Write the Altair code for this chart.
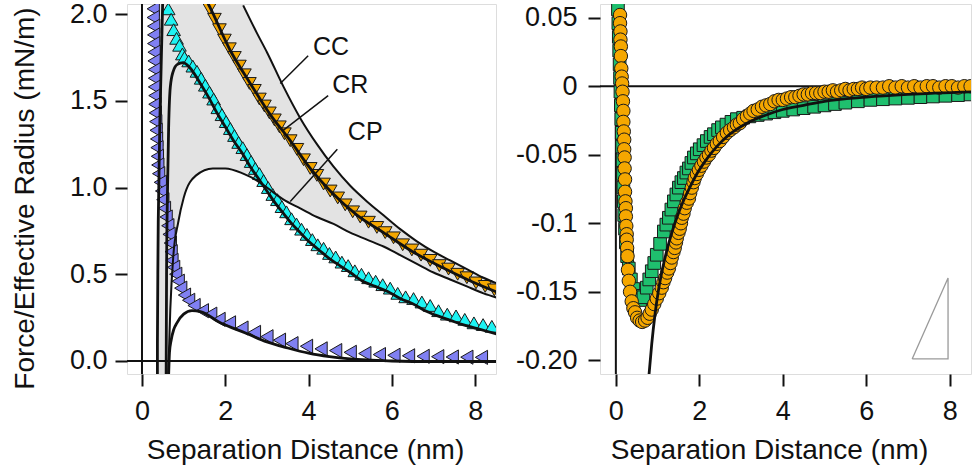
import altair as alt
import pandas as pd

FONT = "Liberation Sans"
INK = "#111111"

# ---------------- Left panel data ----------------
# grey band (upper = CC, lower = CP)
band_x = [0.38, 0.50, 0.60, 0.63, 0.68, 0.75, 0.87, 1.00, 1.30, 1.70, 2.00, 2.43, 2.76, 3.00, 3.40, 3.80, 4.20, 4.60, 5.00, 5.40, 5.80, 6.20, 6.60, 7.00, 7.40, 7.80, 8.20, 8.60]
band_hi = [2.10, 2.10, 2.10, 2.10, 2.10, 2.10, 2.10, 2.10, 2.10, 2.10, 2.10, 2.05, 1.89, 1.78, 1.58, 1.40, 1.25, 1.12, 1.01, 0.92, 0.84, 0.76, 0.69, 0.63, 0.58, 0.53, 0.48, 0.44]
band_lo = [-0.10, -0.10, -0.10, -0.08, 0.30, 0.60, 0.80, 0.94, 1.07, 1.11, 1.11, 1.08, 1.04, 1.00, 0.93, 0.88, 0.83, 0.79, 0.74, 0.70, 0.66, 0.61, 0.56, 0.51, 0.47, 0.43, 0.39, 0.36]

cc_x = [2.43, 2.76, 3.00, 3.40, 3.80, 4.20, 4.60, 5.00, 5.40, 5.80, 6.20, 6.60, 7.00, 7.40, 7.80, 8.20, 8.60]
cc_y = [2.05, 1.89, 1.78, 1.58, 1.40, 1.25, 1.12, 1.01, 0.92, 0.84, 0.76, 0.69, 0.63, 0.58, 0.53, 0.48, 0.44]

cr_x = [1.50, 1.63, 2.12, 2.60, 3.08, 3.56, 4.04, 4.52, 5.17, 5.80, 6.50, 7.20, 7.90, 8.60]
cr_y = [2.10, 2.04, 1.79, 1.60, 1.42, 1.27, 1.11, 0.98, 0.84, 0.74, 0.63, 0.54, 0.46, 0.39]

cp_x = [0.63, 0.68, 0.75, 0.87, 1.00, 1.30, 1.70, 2.00, 2.43, 2.76, 3.00, 3.40, 3.80, 4.20, 4.60, 5.00, 5.40, 5.80, 6.20, 6.60, 7.00, 7.40, 7.80, 8.20, 8.60]
cp_y = [-0.08, 0.30, 0.60, 0.80, 0.94, 1.07, 1.11, 1.11, 1.08, 1.04, 1.00, 0.93, 0.88, 0.83, 0.79, 0.74, 0.70, 0.66, 0.61, 0.56, 0.51, 0.47, 0.43, 0.39, 0.36]

cyfit_x = [0.58, 0.59, 0.61, 0.64, 0.68, 0.75, 0.85, 0.99, 1.15, 1.40, 1.60, 1.80, 2.00, 2.20, 2.40, 2.60, 2.80, 3.00, 3.20, 3.40, 3.60, 3.80, 4.00, 4.25, 4.50, 4.75, 5.00, 5.30, 5.60, 5.90, 6.20, 6.50, 6.80, 7.10, 7.40, 7.70, 8.00, 8.30, 8.60]
cyfit_y = [-0.08, 0.50, 0.95, 1.35, 1.58, 1.67, 1.71, 1.72, 1.69, 1.60, 1.52, 1.43, 1.35, 1.27, 1.20, 1.12, 1.05, 0.98, 0.91, 0.85, 0.79, 0.74, 0.69, 0.64, 0.59, 0.55, 0.51, 0.46, 0.43, 0.40, 0.36, 0.33, 0.29, 0.26, 0.235, 0.21, 0.19, 0.17, 0.15]

pufit_x = [0.64, 0.66, 0.70, 0.76, 0.84, 1.00, 1.20, 1.40, 1.88, 2.50, 3.00, 3.50, 4.00, 4.50, 5.00, 5.50, 6.00, 7.00, 8.60]
pufit_y = [-0.08, 0.05, 0.12, 0.18, 0.22, 0.27, 0.29, 0.285, 0.22, 0.16, 0.11, 0.075, 0.045, 0.025, 0.012, 0.005, 0.0, -0.003, -0.003]

wall_x = [0.50, 0.46, 0.43, 0.41, 0.39, 0.38, 0.37, 0.37]
wall_y = [2.10, 1.70, 1.40, 1.10, 0.80, 0.50, 0.10, -0.10]

pu_x = [0.27, 0.27, 0.28, 0.28, 0.28, 0.29, 0.29, 0.30, 0.30, 0.30, 0.31, 0.31, 0.32, 0.33, 0.34, 0.35, 0.36, 0.37, 0.38, 0.40, 0.44, 0.47, 0.50, 0.54, 0.58, 0.62, 0.65, 0.68, 0.70, 0.72, 0.76, 0.81, 0.87, 0.93, 1.02, 1.12,
        1.25, 1.45, 1.65, 1.85, 2.10, 2.40, 2.70, 3.00, 3.30, 3.60, 3.95, 4.30, 4.65, 5.00, 5.35, 5.70, 6.05, 6.40, 6.75, 7.10, 7.45, 7.80, 8.15]
pu_y = [2.03, 1.98, 1.93, 1.88, 1.83, 1.78, 1.73, 1.68, 1.63, 1.58, 1.53, 1.48, 1.43, 1.38, 1.33, 1.28, 1.23, 1.18, 1.13, 1.08, 1.03, 0.98, 0.93, 0.88, 0.83, 0.78, 0.73, 0.68, 0.63, 0.58, 0.54, 0.50, 0.46, 0.42, 0.38, 0.35,
        0.32, 0.29, 0.27, 0.24, 0.22, 0.19, 0.165, 0.14, 0.12, 0.10, 0.085, 0.07, 0.06, 0.05, 0.043, 0.037, 0.033, 0.03, 0.027, 0.025, 0.023, 0.022, 0.021]

cy_x = [0.63, 0.70, 0.76, 0.83, 0.90, 0.97, 1.02, 1.12, 1.22, 1.32, 1.42, 1.52, 1.62, 1.72, 1.82, 1.92, 2.02, 2.12, 2.22, 2.32, 2.42, 2.52, 2.62, 2.72, 2.82, 2.92, 3.03, 3.14, 3.25, 3.36, 3.47, 3.59, 3.71, 3.83, 3.96, 4.09, 4.22, 4.36, 4.50, 4.65, 4.80, 4.95, 5.11, 5.27, 5.44, 5.61, 5.78, 5.96, 6.14, 6.33, 6.52, 6.72, 6.92, 7.12, 7.33, 7.54, 7.75, 7.97, 8.19, 8.40]
cy_y = [2.03, 1.97, 1.91, 1.86, 1.82, 1.77, 1.75, 1.73, 1.70, 1.67, 1.63, 1.59, 1.55, 1.51, 1.46, 1.42, 1.38, 1.34, 1.30, 1.26, 1.23, 1.19, 1.15, 1.11, 1.08, 1.04, 1.00, 0.96, 0.93, 0.89, 0.86, 0.82, 0.79, 0.76, 0.73, 0.70, 0.67, 0.65, 0.62, 0.60, 0.57, 0.55, 0.52, 0.50, 0.48, 0.46, 0.44, 0.42, 0.39, 0.37, 0.36, 0.34, 0.32, 0.29, 0.27, 0.26, 0.24, 0.22, 0.21, 0.20]

or_x = [1.62, 1.74, 1.86, 1.98, 2.10, 2.22, 2.34, 2.46, 2.58, 2.70, 2.82, 2.94, 3.06, 3.18, 3.30, 3.42, 3.56, 3.72, 3.88, 4.04, 4.20, 4.36, 4.52, 4.70, 4.88, 5.06, 5.24, 5.44, 5.64, 5.84, 6.04, 6.26, 6.48, 6.70, 6.92, 7.14, 7.36, 7.58, 7.80, 8.02, 8.24, 8.46]
or_y = [2.03, 1.97, 1.91, 1.85, 1.80, 1.75, 1.70, 1.65, 1.60, 1.56, 1.51, 1.47, 1.43, 1.39, 1.35, 1.31, 1.27, 1.22, 1.16, 1.11, 1.07, 1.02, 0.98, 0.94, 0.90, 0.86, 0.83, 0.80, 0.77, 0.74, 0.71, 0.67, 0.64, 0.61, 0.58, 0.55, 0.53, 0.50, 0.48, 0.45, 0.43, 0.41]

lab_text = ["CC", "CR", "CP"]
lab_x = [4.54, 5.00, 5.36]
lab_y = [1.81, 1.59, 1.32]
lead_x = [3.32, 3.39, 3.56]
lead_y = [1.60, 1.33, 0.92]
lead_x2 = [3.99, 4.47, 4.69]
lead_y2 = [1.76, 1.53, 1.22]

# ---------------- Right panel data ----------------
gr_x = [0.05, 0.06, 0.07, 0.08, 0.09, 0.10, 0.11, 0.12, 0.13, 0.14, 0.15, 0.16, 0.17, 0.18, 0.19, 0.20, 0.22, 0.24, 0.27, 0.31, 0.36, 0.42, 0.50, 0.58, 0.66,
        0.74, 0.80, 0.86, 0.92, 0.98, 1.06, 1.15, 1.21, 1.27, 1.33, 1.39, 1.45, 1.51, 1.57, 1.63, 1.69, 1.75, 1.81, 1.87, 1.94, 2.01, 2.10, 2.18, 2.27, 2.35, 2.45, 2.54, 2.65, 2.77, 2.90, 3.05, 3.20, 3.40, 3.60, 3.80, 4.00, 4.25, 4.50, 4.75, 5.00, 5.25, 5.50, 5.80, 6.10, 6.40, 6.70, 7.00, 7.30, 7.60, 7.90, 8.20, 8.50]
gr_y = [0.056, 0.046, 0.036, 0.026, 0.016, 0.006, -0.004, -0.014, -0.024, -0.034, -0.044, -0.054, -0.064, -0.074, -0.084, -0.094, -0.104, -0.114, -0.124, -0.133, -0.141, -0.148, -0.153, -0.156, -0.154,
        -0.147, -0.141, -0.135, -0.129, -0.123, -0.115, -0.106, -0.101, -0.096, -0.090, -0.084, -0.079, -0.074, -0.070, -0.067, -0.063, -0.060, -0.056, -0.052, -0.049, -0.046, -0.043, -0.040, -0.037, -0.035, -0.032, -0.030, -0.028, -0.026, -0.024, -0.023, -0.022, -0.021, -0.020, -0.019, -0.018, -0.017, -0.016, -0.015, -0.014, -0.013, -0.012, -0.011, -0.010, -0.0095, -0.009, -0.0085, -0.008, -0.0075, -0.007, -0.0065, -0.006]

oc_x = [0.10, 0.10, 0.11, 0.11, 0.12, 0.12, 0.13, 0.14, 0.15, 0.16, 0.17, 0.18, 0.18, 0.19, 0.20, 0.20, 0.21, 0.21, 0.22, 0.22, 0.23, 0.24, 0.24, 0.25, 0.26, 0.26, 0.27, 0.28, 0.29, 0.31, 0.34, 0.38, 0.42, 0.46, 0.51, 0.57, 0.63, 0.70, 0.76, 0.81, 0.86, 0.92, 0.98, 1.04, 1.10, 1.14, 1.18, 1.23, 1.27, 1.31, 1.34, 1.38, 1.41, 1.44, 1.46, 1.50, 1.53, 1.56, 1.58, 1.62, 1.65, 1.70, 1.75, 1.78, 1.82, 1.86, 1.89, 1.94, 1.99, 2.05, 2.11, 2.17, 2.23, 2.29, 2.35, 2.42, 2.49, 2.57, 2.66, 2.74, 2.83, 2.90, 2.97, 3.05, 3.14, 3.22, 3.30, 3.40, 3.50, 3.60, 3.70, 3.80, 3.90, 4.00, 4.10, 4.20, 4.30, 4.40, 4.50, 4.60, 4.70, 4.80, 4.90, 5.00, 5.10, 5.20, 5.30, 5.40, 5.50, 5.60, 5.70, 5.80, 5.90, 6.00, 6.10, 6.25, 6.40, 6.55, 6.70, 6.85, 7.00, 7.15, 7.30, 7.45, 7.60, 7.75, 7.90, 8.05, 8.20, 8.35, 8.50]
oc_y = [0.052, 0.046, 0.040, 0.034, 0.029, 0.022, 0.013, 0.007, 0.002, -0.004, -0.011, -0.018, -0.026, -0.033, -0.039, -0.046, -0.052, -0.060, -0.068, -0.077, -0.084, -0.089, -0.095, -0.102, -0.108, -0.112, -0.118, -0.124, -0.134, -0.142, -0.150, -0.157, -0.162, -0.165, -0.169, -0.171, -0.172, -0.171, -0.169, -0.166, -0.163, -0.159, -0.155, -0.151, -0.147, -0.143, -0.140, -0.136, -0.133, -0.129, -0.125, -0.121, -0.118, -0.114, -0.111, -0.107, -0.104, -0.100, -0.096, -0.093, -0.089, -0.085, -0.082, -0.078, -0.074, -0.070, -0.067, -0.064, -0.061, -0.058, -0.055, -0.052, -0.050, -0.047, -0.045, -0.042, -0.040, -0.037, -0.034, -0.032, -0.030, -0.028, -0.027, -0.024, -0.022, -0.020, -0.018, -0.017, -0.015, -0.014, -0.013, -0.011, -0.010, -0.010, -0.009, -0.008, -0.008, -0.007, -0.006, -0.006, -0.005, -0.005, -0.005, -0.004, -0.004, -0.003, -0.004, -0.003, -0.002, -0.003, -0.002, -0.002, -0.001, -0.002, -0.001, -0.001, -0.001, 0.000, -0.001, 0.000, -0.001, 0.000, -0.001, 0.000, 0.000, -0.001, 0.000, 0.000, -0.001, 0.000, 0.000]

bl_x = [0.79, 0.86, 0.94, 1.02, 1.12, 1.22, 1.34, 1.46, 1.60, 1.77, 1.96, 2.18, 2.45, 2.73, 3.14, 3.60, 4.00, 4.50, 5.00, 6.00, 7.00, 8.60]
bl_y = [-0.212, -0.188, -0.166, -0.149, -0.133, -0.120, -0.107, -0.096, -0.085, -0.074, -0.063, -0.053, -0.043, -0.035, -0.027, -0.021, -0.017, -0.014, -0.011, -0.008, -0.006, -0.004]

tri_x = [7.10, 7.96, 7.96, 7.10]
tri_y = [-0.199, -0.199, -0.140, -0.199]

# ---------------- helpers ----------------
def df(**cols):
    return pd.DataFrame(cols)

sxL = alt.Scale(domain=[-0.36, 8.5], nice=False, zero=False)
syL = alt.Scale(domain=[-0.075, 2.058], nice=False, zero=False)
sxR = alt.Scale(domain=[-0.38, 8.51], nice=False, zero=False)
syR = alt.Scale(domain=[-0.21, 0.06], nice=False, zero=False)

common = dict(domain=False, grid=False, tickColor=INK, tickWidth=2, tickSize=12,
              labelFont=FONT, labelFontSize=27, labelColor=INK,
              titleFont=FONT, titleFontSize=28, titleFontWeight="normal", titleColor=INK,
              labelFlush=False, labelOverlap=False)

axXL = alt.Axis(values=[0, 2, 4, 6, 8], format="d", labelPadding=12, titlePadding=12, titleX=178, **common)
axYL = alt.Axis(values=[0, 0.5, 1, 1.5, 2], format=".1f", labelPadding=8, titlePadding=30, titleY=194, **common)
axXR = alt.Axis(values=[0, 2, 4, 6, 8], format="d", labelPadding=12, titlePadding=12, titleX=169, **common)
axYR = alt.Axis(values=[0.05, 0, -0.05, -0.1, -0.15, -0.2], labelPadding=11,
                labelExpr="datum.value > 0.04 ? '0.05' : datum.value > -0.01 ? '0' : datum.value > -0.06 ? '-0.05' : datum.value > -0.11 ? '-0.1' : datum.value > -0.16 ? '-0.15' : '-0.20'",
                **common)

XT = "Separation Distance (nm)"
YT = "Force/Effective Radius (mN/m)"

def XL(f="x"):
    return alt.X(f"{f}:Q", scale=sxL, axis=axXL, title=XT)

def YL(f="y"):
    return alt.Y(f"{f}:Q", scale=syL, axis=axYL, title=YT)

def XR(f="x"):
    return alt.X(f"{f}:Q", scale=sxR, axis=axXR, title=XT)

def YR(f="y"):
    return alt.Y(f"{f}:Q", scale=syR, axis=axYR, title=None)

# ---------------- Left panel ----------------
band = alt.Chart(df(x=band_x, hi=band_hi, lo=band_lo)).mark_area(
    color="#E3E3E3", interpolate="monotone", clip=True, opacity=1
).encode(x=XL(), y=YL("hi"), y2=alt.Y2("lo:Q"))

hzero_L = alt.Chart(df(y=[0.0])).mark_rule(color=INK, strokeWidth=2).encode(y=YL())
vzero_L = alt.Chart(df(x=[0.0])).mark_rule(color=INK, strokeWidth=2).encode(x=XL())

def markers(xs, ys, shape, fill, size, X, Y):
    return alt.Chart(df(x=xs, y=ys)).mark_point(
        shape=shape, filled=True, fill=fill, stroke="#1a1a1a", strokeWidth=1,
        size=size, opacity=1, fillOpacity=1, strokeOpacity=1, clip=True
    ).encode(x=X(), y=Y())

pu = markers(pu_x, pu_y, "triangle-left", "#8080F2", 200, XL, YL)
cy = markers(cy_x, cy_y, "triangle-up", "#1EF2F2", 185, XL, YL)
org = markers(or_x, or_y, "triangle-down", "#F5A700", 185, XL, YL)

def curve(xs, ys, width, X, Y, interp="monotone"):
    return alt.Chart(df(x=xs, y=ys)).mark_line(
        color=INK, strokeWidth=width, interpolate=interp, clip=True
    ).encode(x=X(), y=Y())

cc_line = curve(cc_x, cc_y, 2, XL, YL)
cr_line = curve(cr_x, cr_y, 2.8, XL, YL)
cp_line = curve(cp_x, cp_y, 2, XL, YL)
cy_line = curve(cyfit_x, cyfit_y, 2.8, XL, YL)
pu_line = curve(pufit_x, pufit_y, 2.8, XL, YL)
wall = alt.Chart(df(x=wall_x, y=wall_y, o=list(range(len(wall_x))))).mark_line(
    color=INK, strokeWidth=2.8, clip=True
).encode(x=XL(), y=YL(), order="o:Q")

leaders = alt.Chart(df(x=lead_x, y=lead_y, x2=lead_x2, y2=lead_y2)).mark_rule(
    color=INK, strokeWidth=1.5
).encode(x=XL(), y=YL(), x2="x2:Q", y2="y2:Q")

labels = alt.Chart(df(x=lab_x, y=lab_y, t=lab_text)).mark_text(
    font=FONT, fontSize=25, color=INK, align="center", baseline="middle"
).encode(x=XL(), y=YL(), text="t:N")

left = alt.layer(
    band, hzero_L, vzero_L, pu, cy, org,
    cc_line, cp_line, cr_line, cy_line, pu_line, wall, leaders, labels
).properties(width=369, height=370)

# ---------------- Right panel ----------------
hzero_R = alt.Chart(df(y=[0.0])).mark_rule(color=INK, strokeWidth=2).encode(y=YR())
vzero_R = alt.Chart(df(x=[0.0])).mark_rule(color=INK, strokeWidth=2).encode(x=XR())

tri = alt.Chart(df(x=tri_x, y=tri_y, o=list(range(len(tri_x))))).mark_line(
    color="#9a9a9a", strokeWidth=1.3
).encode(x=XR(), y=YR(), order="o:Q")

gr = markers(gr_x, gr_y, "square", "#1FBF6E", 160, XR, YR)
oc = markers(oc_x, oc_y, "circle", "#F5A700", 180, XR, YR)
bl = curve(bl_x, bl_y, 2.8, XR, YR)

right = alt.layer(hzero_R, vzero_R, tri, gr, oc, bl).properties(width=371, height=370)

chart = alt.hconcat(left, right, spacing=16).properties(
    padding={"left": 10, "top": -1, "right": 4, "bottom": 4},
    background="white",
).configure_view(stroke=INK, strokeWidth=2).configure(font=FONT)

chart.save("out.html", embed_options={"renderer": "svg", "actions": False})
